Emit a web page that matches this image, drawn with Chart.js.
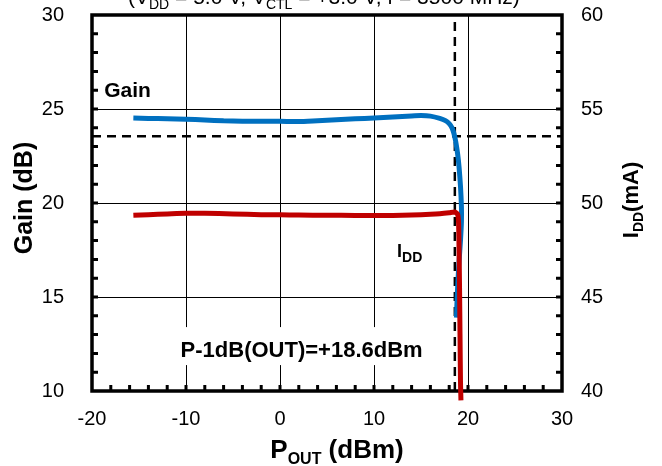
<!DOCTYPE html>
<html>
<head>
<meta charset="utf-8">
<script src="https://cdn.jsdelivr.net/npm/chart.js@4.4.1/dist/chart.umd.min.js"></script>
<style>
  html, body { margin: 0; padding: 0; background: #fff; }
</style>
</head>
<body>
<canvas id="chart" width="662" height="466"></canvas>
<script>
// Gain vs Pout (blue)
const gainPout = [-15.6, -14, -12, -10, -8, -6, -4, -2, 0, 2, 4, 6, 8, 10, 12, 14, 15, 16, 17, 17.6, 18, 18.3, 18.5, 18.7, 18.9, 19.05, 19.2, 19.3, 19.3, 19.2, 19.0, 18.85, 18.77];
const gainDb   = [24.52, 24.5, 24.48, 24.46, 24.42, 24.37, 24.35, 24.35, 24.35, 24.33, 24.38, 24.43, 24.48, 24.52, 24.57, 24.63, 24.65, 24.62, 24.5, 24.38, 24.22, 24.0, 23.7, 23.25, 22.6, 21.9, 20.9, 19.8, 19.0, 18.0, 16.5, 15.0, 13.9];

// IDD vs Pout (red)
const iddPout = [-15.6, -14, -12, -10, -8, -5, -2, 0, 2, 5, 8, 10, 12, 14, 16, 17, 18, 18.6, 18.9, 19.0, 19.05, 19.1, 19.15, 19.2, 19.25];
const iddMa   = [49.35, 49.38, 49.42, 49.45, 49.45, 49.42, 49.38, 49.37, 49.36, 49.35, 49.34, 49.33, 49.34, 49.36, 49.4, 49.43, 49.48, 49.52, 49.4, 48.9, 47.5, 45.5, 43.0, 40.5, 39.5];

// P1dB markers
const p1dbPout = 18.6;
const p1dbGain = 23.55;

const xRange = [-20, 30];
const gainRange = [10, 30];
const iddRange = [40, 60];

const FONT = '"Liberation Sans", Arial, sans-serif';

function toPts(xs, ys) {
  return xs.map((x, i) => ({ x: x, y: ys[i] }));
}

// text with subscripts
function richText(ctx, parts, x, y, o) {
  const f = s => (o.bold ? 'bold ' : '') + s + 'px ' + FONT;
  let total = 0;
  parts.forEach(([t, sub]) => { ctx.font = f(sub ? o.sub : o.size); total += ctx.measureText(t).width; });
  let cx = o.align === 'center' ? x - total / 2 : x;
  ctx.textAlign = 'left';
  ctx.textBaseline = 'alphabetic';
  parts.forEach(([t, sub]) => {
    ctx.font = f(sub ? o.sub : o.size);
    ctx.fillText(t, cx, sub ? y + o.drop : y);
    cx += ctx.measureText(t).width;
  });
}

const decor = {
  id: 'decor',
  beforeDatasetsDraw(chart) {
    const { ctx, chartArea: a, scales } = chart;
    const sx = scales.x, sy = scales.y;
    ctx.save();
    // white box behind the P1dB note
    const bx = sx.getPixelForValue(-11.95), by = sy.getPixelForValue(13.4);
    ctx.fillStyle = '#fff';
    ctx.fillRect(bx, by, 256, 38);
    // frame
    ctx.strokeStyle = '#000';
    ctx.lineWidth = 3.5;
    ctx.strokeRect(a.left, a.top, a.right - a.left, a.bottom - a.top);
    // minor ticks
    ctx.lineWidth = 3;
    ctx.beginPath();
    for (let v = gainRange[0] + 1; v < gainRange[1]; v++) {
      const py = sy.getPixelForValue(v);
      ctx.moveTo(a.left, py); ctx.lineTo(a.left + 6, py);
      ctx.moveTo(a.right - 6, py); ctx.lineTo(a.right, py);
    }
    for (let v = xRange[0] + 2; v < xRange[1]; v += 2) {
      const px = sx.getPixelForValue(v);
      ctx.moveTo(px, a.bottom); ctx.lineTo(px, a.bottom - 6);
    }
    ctx.stroke();
    ctx.restore();
  },
  afterDraw(chart) {
    const { ctx, chartArea: a, scales } = chart;
    const sx = scales.x, sy = scales.y;
    ctx.save();
    ctx.fillStyle = '#000';
    // title (cut at the top)
    richText(ctx, [['(V', 0], ['DD', 1], [' = 5.0 V, V', 0], ['CTL', 1], [' = +3.0 V, f = 3500 MHz)', 0]],
      128, 4, { size: 21, sub: 14, drop: 5 });
    // in-plot labels
    richText(ctx, [['Gain', 0]], sx.getPixelForValue(-18.7), sy.getPixelForValue(25.65), { size: 21, bold: true });
    richText(ctx, [['I', 0], ['DD', 1]], sx.getPixelForValue(12.45), sy.getPixelForValue(17.15), { size: 18, sub: 14, drop: 5, bold: true });
    richText(ctx, [['P-1dB(OUT)=+18.6dBm', 0]], sx.getPixelForValue(2.3), sy.getPixelForValue(11.8), { size: 22, bold: true, align: 'center' });
    // x title
    richText(ctx, [['P', 0], ['OUT', 1], [' (dBm)', 0]], (a.left + a.right) / 2 + 10, 458, { size: 26, sub: 16, drop: 6, bold: true, align: 'center' });
    // left title
    ctx.save();
    ctx.translate(32, (a.top + a.bottom) / 2 - 5);
    ctx.rotate(-Math.PI / 2);
    richText(ctx, [['Gain (dB)', 0]], 0, 0, { size: 25, bold: true, align: 'center' });
    ctx.restore();
    // right title
    ctx.save();
    ctx.translate(638, (a.top + a.bottom) / 2 - 3);
    ctx.rotate(-Math.PI / 2);
    richText(ctx, [['I', 0], ['DD', 1], ['(mA)', 0]], 0, 0, { size: 22, sub: 14, drop: 5, bold: true, align: 'center' });
    ctx.restore();
    ctx.restore();
  }
};

const tickFont = { family: FONT, size: 20 };
const gridOpts = { color: '#000', lineWidth: 1, drawTicks: false };

function noPad(s) {
  s.paddingTop = 0; s.paddingBottom = 0; s.paddingLeft = 0; s.paddingRight = 0;
}

new Chart(document.getElementById('chart').getContext('2d'), {
  type: 'scatter',
  data: {
    datasets: [
      {
        label: 'IDD',
        data: toPts(iddPout, iddMa),
        yAxisID: 'y2',
        showLine: true,
        borderColor: '#C00000',
        borderWidth: 5,
        pointRadius: 0,
        tension: 0.2,
        order: 1,
        clip: { left: 0, top: 0, right: 0, bottom: 12 },
      },
      {
        label: 'Gain',
        data: toPts(gainPout, gainDb),
        yAxisID: 'y',
        showLine: true,
        borderColor: '#0070C0',
        borderWidth: 5,
        pointRadius: 0,
        tension: 0.2,
        order: 2,
      },
      {
        label: 'P1dB x',
        data: [{ x: p1dbPout, y: gainRange[0] }, { x: p1dbPout, y: gainRange[1] }],
        yAxisID: 'y',
        showLine: true,
        borderColor: '#000',
        borderWidth: 2.5,
        borderDash: [9, 6],
        pointRadius: 0,
        order: 3,
      },
      {
        label: 'P1dB y',
        data: [{ x: xRange[0], y: p1dbGain }, { x: xRange[1], y: p1dbGain }],
        yAxisID: 'y',
        showLine: true,
        borderColor: '#000',
        borderWidth: 2.5,
        borderDash: [9, 6],
        pointRadius: 0,
        order: 3,
      },
    ],
  },
  options: {
    responsive: false,
    animation: false,
    layout: { padding: { top: 15, left: 0, right: 0, bottom: 0 } },
    plugins: {
      legend: { display: false },
      tooltip: { enabled: false },
    },
    scales: {
      x: {
        type: 'linear',
        position: 'bottom',
        min: xRange[0],
        max: xRange[1],
        ticks: { stepSize: 10, color: '#000', font: tickFont, padding: 16 },
        grid: gridOpts,
        border: { display: false },
        afterFit(s) { s.height = 75; noPad(s); },
      },
      y: {
        position: 'left',
        min: gainRange[0],
        max: gainRange[1],
        ticks: { stepSize: 5, color: '#000', font: tickFont, padding: 28 },
        grid: gridOpts,
        border: { display: false },
        afterFit(s) { s.width = 92; noPad(s); },
      },
      y2: {
        position: 'right',
        min: iddRange[0],
        max: iddRange[1],
        ticks: { stepSize: 5, color: '#000', font: tickFont, padding: 19 },
        grid: { display: false, drawTicks: false },
        border: { display: false },
        afterFit(s) { s.width = 100; noPad(s); },
      },
    },
  },
  plugins: [decor],
});
</script>
</body>
</html>
